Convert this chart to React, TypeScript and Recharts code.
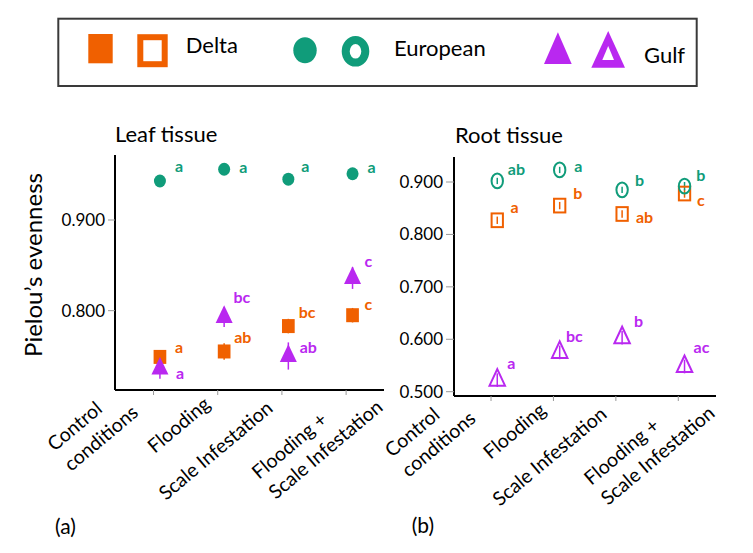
import React from 'react';
import { ScatterChart, Scatter, XAxis, YAxis, ErrorBar } from 'recharts';

const FONT = 'Lato, "Open Sans", "DejaVu Sans", sans-serif';
const ORANGE = '#F06000';
const GREEN = '#109C7A';
const PURPLE = '#B928F0';

// ---------- data ----------
const categories = ['Control conditions', 'Flooding', 'Scale Infestation', 'Flooding + Scale Infestation'];
const tickLines = [['Control', 'conditions'], ['Flooding'], ['Scale Infestation'], ['Flooding +', 'Scale Infestation']];

const leafDelta = [0.749, 0.755, 0.783, 0.795];
const leafDeltaErr = [0.006, 0.009, 0.008, 0.008];
const leafDeltaLetters = ['a', 'ab', 'bc', 'c'];

const leafEuropean = [0.943, 0.956, 0.945, 0.951];
const leafEuropeanErr = [0.004, 0.004, 0.004, 0.004];
const leafEuropeanLetters = ['a', 'a', 'a', 'a'];

const leafGulf = [0.736, 0.793, 0.75, 0.836];
const leafGulfErr = [0.011, 0.011, 0.015, 0.012];
const leafGulfLetters = ['a', 'bc', 'ab', 'c'];

const rootDelta = [0.827, 0.855, 0.839, 0.878];
const rootDeltaErr = [0.007, 0.007, 0.007, 0.008];
const rootDeltaLetters = ['a', 'b', 'ab', 'c'];

const rootEuropean = [0.902, 0.923, 0.885, 0.892];
const rootEuropeanErr = [0.006, 0.006, 0.006, 0.008];
const rootEuropeanLetters = ['ab', 'a', 'b', 'b'];

const rootGulf = [0.522, 0.575, 0.603, 0.548];
const rootGulfErr = [0.013, 0.013, 0.013, 0.013];
const rootGulfLetters = ['a', 'bc', 'b', 'ac'];

const leafTicks = [0.8, 0.9];
const rootTicks = [0.5, 0.6, 0.7, 0.8, 0.9];

// ---------- layout (not data) ----------
const DODGE = 0.1; // markers sit slightly right of the category tick
const NUDGE = {
  leafEuropean: [[15, -9], [15, 4], [13, -7.6], [15, -1]],
  leafDelta: [[15, -4.4], [10, -8.6], [10.3, -7.7], [12, -5]],
  leafGulf: [[16, 10.3], [9.4, -14.2], [11.3, -3.5], [12, -11]],
  rootEuropean: [[10.6, -6], [14.6, 1.7], [12.8, -4], [11.7, -5.5]],
  rootDelta: [[13.3, -7.2], [13.6, -6.4], [13.8, 9.3], [12.4, 12.3]],
  rootGulf: [[10, -11], [6.3, -10.5], [11.8, -11], [9, -13.3]],
};
const TICK_START = [[-99, 62], [-63, 64], [-116, 111], [-87, 90]];

const rows = (vals: number[], errs: number[], letters: string[], nudge: number[][]) =>
  categories.map((c, i) => ({
    x: i + 1 + DODGE,
    y: vals[i],
    err: errs[i],
    letter: letters[i],
    ndx: nudge[i][0],
    ndy: nudge[i][1],
    cat: c,
  }));

const leafDeltaRows = rows(leafDelta, leafDeltaErr, leafDeltaLetters, NUDGE.leafDelta);
const leafEuropeanRows = rows(leafEuropean, leafEuropeanErr, leafEuropeanLetters, NUDGE.leafEuropean);
const leafGulfRows = rows(leafGulf, leafGulfErr, leafGulfLetters, NUDGE.leafGulf);
const rootDeltaRows = rows(rootDelta, rootDeltaErr, rootDeltaLetters, NUDGE.rootDelta);
const rootEuropeanRows = rows(rootEuropean, rootEuropeanErr, rootEuropeanLetters, NUDGE.rootEuropean);
const rootGulfRows = rows(rootGulf, rootGulfErr, rootGulfLetters, NUDGE.rootGulf);

type Kind = 'square' | 'circle' | 'triangle';

const makeShape = (kind: Kind, hollow: boolean, color: string) => (props: any) => {
  const { cx, cy, payload } = props;
  if (cx == null || cy == null) return <g />;
  let mark: React.ReactNode = null;
  const fill = hollow ? 'none' : color;
  const stroke = hollow ? color : 'none';
  const sw = hollow ? 2 : 0;
  if (kind === 'square') {
    const w = hollow ? 11.3 : 12.7;
    const h = hollow ? 13.7 : 14;
    mark = <rect x={cx - w / 2} y={cy - h / 2} width={w} height={h} fill={fill} stroke={stroke} strokeWidth={sw} />;
  } else if (kind === 'circle') {
    const rx = hollow ? 5.7 : 6;
    const ry = hollow ? 7.4 : 6.5;
    mark = <ellipse cx={cx} cy={cy} rx={rx} ry={ry} fill={fill} stroke={stroke} strokeWidth={sw} />;
  } else {
    const w = hollow ? 15.5 : 17;
    const h = hollow ? 16.5 : 17.7;
    const pts = `${cx},${cy - (2 * h) / 3} ${cx - w / 2},${cy + h / 3} ${cx + w / 2},${cy + h / 3}`;
    mark = <polygon points={pts} fill={fill} stroke={stroke} strokeWidth={sw} strokeLinejoin="miter" />;
  }
  return (
    <g>
      {mark}
      <text
        x={cx + payload.ndx}
        y={cy + payload.ndy}
        fill={color}
        fontFamily={FONT}
        fontWeight={700}
        fontSize={16}
      >
        {payload.letter}
      </text>
    </g>
  );
};

const XTick = (props: any) => {
  const { x, payload, baseY } = props;
  const i = Math.round(payload.value) - 1;
  const lines = tickLines[i] || [];
  const [ox, oy] = TICK_START[i] || [0, 0];
  return (
    <text
      transform={`translate(${x + ox},${baseY + oy}) rotate(-40)`}
      fontFamily={FONT}
      fontSize={19.5}
      fill="#000"
      textAnchor="start"
    >
      {lines.map((l, k) => (
        <tspan key={k} x={0} y={k * 26}>
          {l}
        </tspan>
      ))}
    </text>
  );
};

const tickStyle = { fontSize: 17, fill: '#000', fontFamily: FONT };

interface PanelProps {
  width: number;
  margin: { top: number; right: number; bottom: number; left: number };
  xDomain: [number, number];
  yDomain: [number, number];
  yTicks: number[];
  yWidth: number;
  yTickSize: number;
  xHeight: number;
  baseY: number;
  series: { rows: any[]; kind: Kind; hollow: boolean; color: string; name: string }[];
}

const Panel = (p: PanelProps) => (
  <ScatterChart width={p.width} height={553} margin={p.margin}>
    <XAxis
      type="number"
      dataKey="x"
      domain={p.xDomain}
      ticks={[1, 2, 3, 4]}
      interval={0}
      allowDataOverflow
      height={p.xHeight}
      tickSize={5}
      tickMargin={0}
      tickLine={{ stroke: '#999' }}
      axisLine={{ stroke: '#000', strokeWidth: 2 }}
      tick={(tp: any) => <XTick {...tp} baseY={p.baseY} />}
    />
    <XAxis
      xAxisId="top"
      orientation="top"
      type="number"
      dataKey="x"
      domain={p.xDomain}
      allowDataOverflow
      height={0}
      tick={false}
      tickLine={false}
      axisLine={{ stroke: '#8a8a8a', strokeWidth: 1.2 }}
    />
    <YAxis
      type="number"
      dataKey="y"
      domain={p.yDomain}
      ticks={p.yTicks}
      interval={0}
      allowDataOverflow
      width={p.yWidth}
      tickSize={p.yTickSize}
      tickMargin={3}
      tickLine={{ stroke: '#999' }}
      axisLine={{ stroke: '#000', strokeWidth: 2 }}
      tick={tickStyle}
      tickFormatter={(v: number) => v.toFixed(3)}
    />
    <YAxis
      yAxisId="right"
      orientation="right"
      type="number"
      dataKey="y"
      domain={p.yDomain}
      allowDataOverflow
      width={0}
      tick={false}
      tickLine={false}
      axisLine={{ stroke: '#333', strokeWidth: 1.2 }}
    />
    {p.series.map((s) => (
      <Scatter
        key={s.name}
        name={s.name}
        data={s.rows}
        shape={makeShape(s.kind, s.hollow, s.color)}
        isAnimationActive={false}
      >
        <ErrorBar dataKey="err" direction="y" width={0} stroke={s.color} strokeWidth={1.5} />
      </Scatter>
    ))}
  </ScatterChart>
);

const Legend = () => (
  <g>
    <rect x={58.3} y={18.7} width={638.4} height={67.3} fill="none" stroke="#3a3a3a" strokeWidth={2} />
    <rect x={88.3} y={34} width={24.4} height={29.3} fill={ORANGE} />
    <rect x={140.3} y={37.2} width={24.4} height={27} fill="#fff" stroke={ORANGE} strokeWidth={6} />
    <text x={185.7} y={53.3} fontFamily={FONT} fontSize={22} fill="#000">Delta</text>
    <ellipse cx={305} cy={50.3} rx={11.7} ry={13} fill={GREEN} />
    <ellipse cx={355.5} cy={51.3} rx={9.8} ry={11.3} fill="#fff" stroke={GREEN} strokeWidth={8} />
    <text x={394} y={56} fontFamily={FONT} fontSize={22} fill="#000">European</text>
    <polygon points="557.9,32.3 544,64 571.7,64" fill={PURPLE} />
    <polygon points="608.2,31 591.3,67.7 625,67.7" fill={PURPLE} />
    <polygon points="608.2,46 602.3,60 614,60" fill="#fff" />
    <text x={644} y={62.7} fontFamily={FONT} fontSize={22} fill="#000">Gulf</text>
  </g>
);

export default function App() {
  return (
    <div style={{ position: 'absolute', left: 0, top: 0, width: 753, height: 553, background: '#fff', overflow: 'hidden' }}>
      <div style={{ position: 'absolute', left: 0, top: 0 }}>
        <Panel
          width={420}
          margin={{ top: 155, right: 36, bottom: 0, left: 0 }}
          xDomain={[0.4, 4.59]}
          yDomain={[0.7125, 0.9717]}
          yTicks={leafTicks}
          yWidth={115}
          yTickSize={7}
          xHeight={163}
          baseY={390}
          series={[
            { rows: leafEuropeanRows, kind: 'circle', hollow: false, color: GREEN, name: 'European' },
            { rows: leafDeltaRows, kind: 'square', hollow: false, color: ORANGE, name: 'Delta' },
            { rows: leafGulfRows, kind: 'triangle', hollow: false, color: PURPLE, name: 'Gulf' },
          ]}
        />
      </div>
      <div style={{ position: 'absolute', left: 360, top: 0 }}>
        <Panel
          width={393}
          margin={{ top: 157, right: 37, bottom: 0, left: 0 }}
          xDomain={[0.407, 4.604]}
          yDomain={[0.4918, 0.9477]}
          yTicks={rootTicks}
          yWidth={94}
          yTickSize={8}
          xHeight={157}
          baseY={396}
          series={[
            { rows: rootDeltaRows, kind: 'square', hollow: true, color: ORANGE, name: 'Delta' },
            { rows: rootEuropeanRows, kind: 'circle', hollow: true, color: GREEN, name: 'European' },
            { rows: rootGulfRows, kind: 'triangle', hollow: true, color: PURPLE, name: 'Gulf' },
          ]}
        />
      </div>
      <svg width={753} height={553} style={{ position: 'absolute', left: 0, top: 0, pointerEvents: 'none' }}>
        <Legend />
        <text x={115} y={142.3} fontFamily={FONT} fontSize={22} fill="#000">Leaf tissue</text>
        <text x={455} y={143.3} fontFamily={FONT} fontSize={22} fill="#000">Root tissue</text>
        <text transform="translate(41.5,265) rotate(-90)" textAnchor="middle" fontFamily={FONT} fontSize={24} fill="#000">
          Pielou’s evenness
        </text>
        <text x={55} y={534} fontFamily={FONT} fontSize={21} fill="#000">(a)</text>
        <text x={411.7} y={532.5} fontFamily={FONT} fontSize={21} fill="#000">(b)</text>
      </svg>
    </div>
  );
}
